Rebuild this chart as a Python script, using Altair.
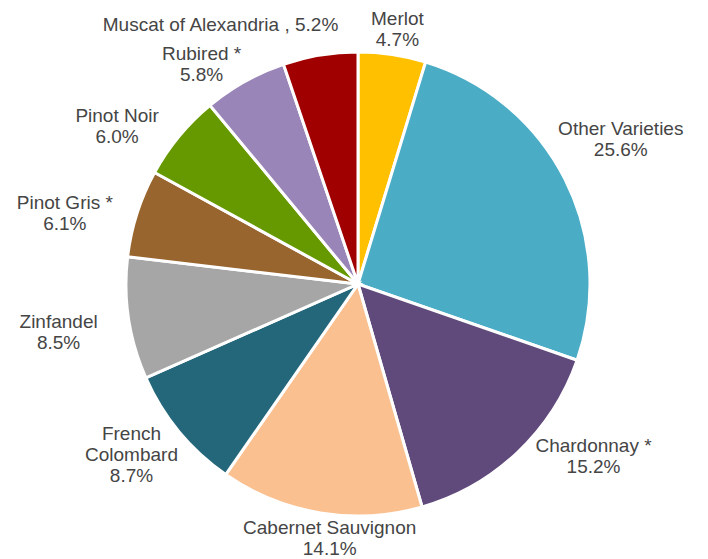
import altair as alt
import pandas as pd

names = ["Merlot", "Other Varieties", "Chardonnay *", "Cabernet Sauvignon",
         "French Colombard", "Zinfandel", "Pinot Gris *", "Pinot Noir",
         "Rubired *", "Muscat of Alexandria"]
label_names = ["Merlot", "Other Varieties", "Chardonnay *", "Cabernet Sauvignon",
               "French\nColombard", "Zinfandel", "Pinot Gris *", "Pinot Noir",
               "Rubired *", "Muscat of Alexandria"]
shares = [4.7, 25.6, 15.2, 14.1, 8.7, 8.5, 6.1, 6.0, 5.8, 5.2]
colors = ["#FFC000", "#4BACC6", "#604A7B", "#FAC090", "#25677A",
          "#A6A6A6", "#98652F", "#669900", "#9A85B8", "#A00000"]

df = pd.DataFrame({
    "idx": list(range(len(names))),
    "name": names,
    "share": shares,
})
df["label"] = [
    (ln + " , " + f"{s:.1f}%") if n == "Muscat of Alexandria" else (ln + "\n" + f"{s:.1f}%")
    for n, ln, s in zip(names, label_names, shares)
]

CX, CY, R = 350, 276, 232
LH = 21

base = alt.Chart(df).transform_window(
    cum="sum(share)", sort=[alt.SortField("idx")]
).transform_joinaggregate(
    total="sum(share)"
).transform_calculate(
    a0="2*PI*(datum.cum - datum.share)/datum.total",
    a1="2*PI*datum.cum/datum.total",
    mid="2*PI*(datum.cum - datum.share/2)/datum.total - 0.5*datum.share/datum.total",
    nl="length(split(datum.label, '\\n'))",
).transform_calculate(
    lx=f"{CX} + (sin(datum.mid) > 0 ? 318 : 305)*sin(datum.mid)",
    ly=f"{CY} - 256*cos(datum.mid) - (datum.nl - 1)*{LH}/2",
)

pie = base.mark_arc(stroke="white", strokeWidth=3).encode(
    theta=alt.Theta("a0:Q", scale=None),
    theta2=alt.Theta2("a1:Q"),
    color=alt.Color("name:N", scale=alt.Scale(domain=names, range=colors), legend=None),
    radius=alt.value(R),
    x=alt.value(CX), y=alt.value(CY),
)

labels = base.transform_filter(
    "datum.name != 'Muscat of Alexandria'"
).mark_text(
    font="Liberation Sans", fontSize=19, lineHeight=LH, color="#454545",
    lineBreak="\n", align="center", baseline="middle"
).encode(
    x=alt.X("lx:Q", scale=None),
    y=alt.Y("ly:Q", scale=None),
    text="label:N",
)

muscat = base.transform_filter(
    "datum.name == 'Muscat of Alexandria'"
).mark_text(
    font="Liberation Sans", fontSize=19, color="#454545",
    align="center", baseline="middle", dx=-80, dy=-8
).encode(
    x=alt.X("lx:Q", scale=None),
    y=alt.Y("ly:Q", scale=None),
    text="label:N",
)

chart = alt.layer(pie, labels, muscat).properties(
    width=692, height=550, padding=0, background="white",
    autosize=alt.AutoSizeParams(type="none")
).configure_view(stroke=None)

chart.save("out.html", embed_options={"renderer": "svg", "actions": False})
